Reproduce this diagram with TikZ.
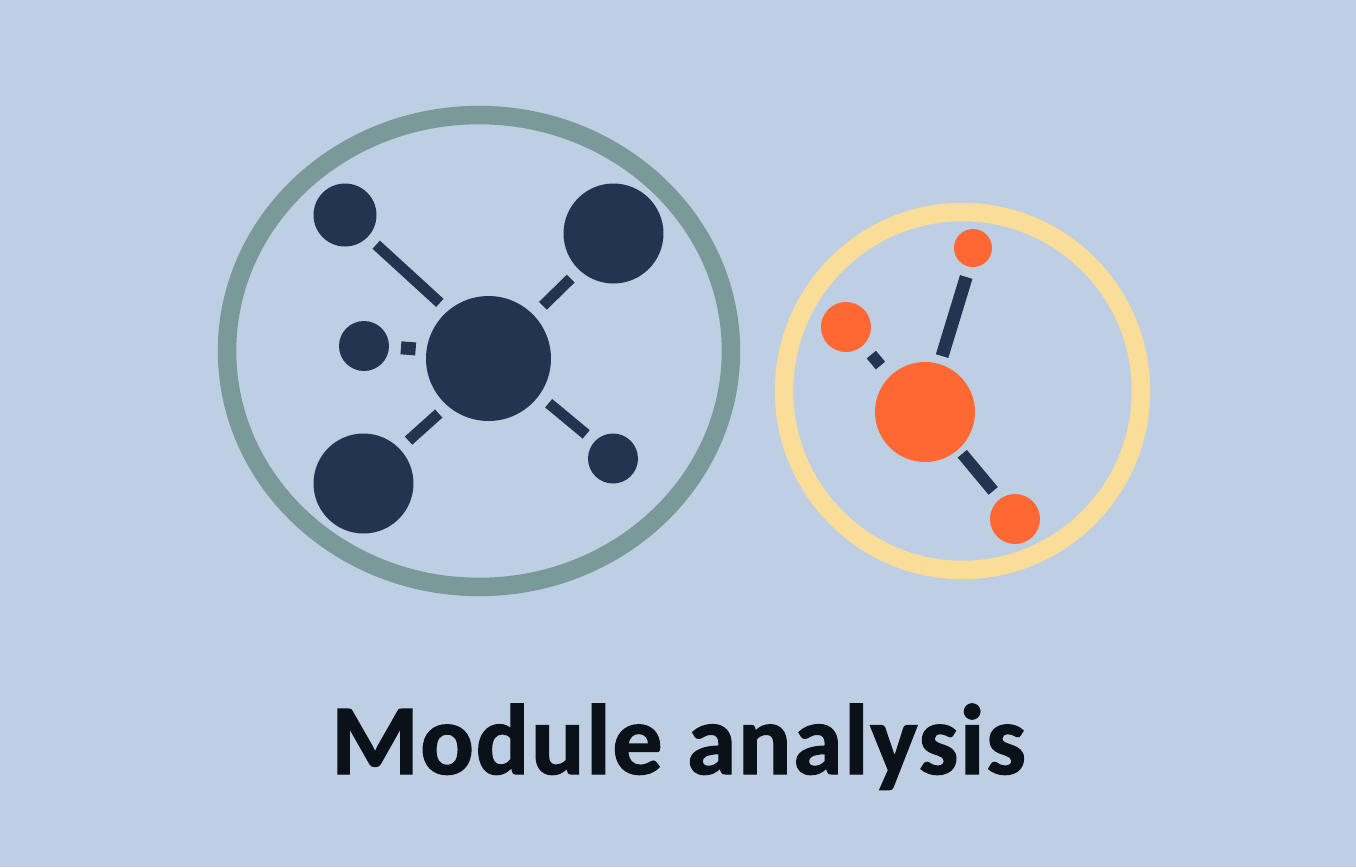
\documentclass[tikz,border=0pt]{standalone}
\usepackage{fontspec}
\setmainfont{Carlito}[LetterSpace=1.5,BoldFeatures={FakeBold=1.2}]
\usetikzlibrary{shapes.geometric}
\definecolor{pagebg}{HTML}{BECEE3}
\definecolor{navy}{HTML}{22344F}
\definecolor{sage}{HTML}{7A9A9A}
\definecolor{sand}{HTML}{FBDD9A}
\definecolor{flame}{HTML}{FF6733}
\definecolor{inkblack}{HTML}{0B1118}
\begin{document}
\begin{tikzpicture}[
    x=0.02cm, y=-0.02cm,
    ring/.style={ellipse, draw, line width=0.37cm, inner sep=0pt, outer sep=0pt},
    blob/.style={circle, fill=navy, inner sep=0pt, outer sep=0pt},
    hot/.style={blob, fill=flame},
    link/.style={draw=navy, line width=0.22cm}
]
    \fill[pagebg] (0,0) rectangle (1356,867);
    \useasboundingbox (0,0) rectangle (1356,867);

    \node[ring, draw=sage, minimum width=10.08cm, minimum height=9.44cm] (leftring) at (479,351) {};
    \node[ring, draw=sand, minimum width=7.14cm, minimum height=7.16cm] (rightring) at (962.5,391) {};

    \node[blob, minimum size=2.5cm] (hub) at (488.5,358.5) {};
    \node[blob, minimum size=1.26cm] (topleft) at (345,215) {};
    \node[blob, minimum size=2cm] (topright) at (613.5,233.5) {};
    \node[blob, minimum size=1cm] (midleft) at (364,346) {};
    \node[blob, minimum size=2cm] (botleft) at (363.5,483.5) {};
    \node[blob, minimum size=1cm] (botright) at (613,458.5) {};

    \node[hot, minimum size=2cm] (hubtwo) at (925,412) {};
    \node[hot, minimum size=0.76cm] (top) at (973,248) {};
    \node[hot, minimum size=1cm] (left) at (846,327) {};
    \node[hot, minimum size=1cm] (low) at (1015,519) {};

    \draw[link, shorten <=0.232cm, shorten >=0.23cm] (topleft.-44.5) -- (hub.130.6);
    \draw[link, shorten <=0.266cm, shorten >=0.244cm] (hub.44.6) -- (topright.-133);
    \draw[link, line width=0.26cm, shorten <=0.24cm, shorten >=0.22cm] (midleft.-2.6) -- (hub.172.5);
    \draw[link, shorten <=0.244cm, shorten >=0.236cm] (botleft.44.1) -- (hub.-131.2);
    \draw[link, shorten <=0.25cm, shorten >=0.222cm] (hub.-36.4) -- (botright.137.3);

    \draw[link, line width=0.26cm, shorten <=0.17cm, shorten >=0.216cm] (hubtwo.73.2) -- (top.-101.8);
    \draw[link, line width=0.24cm, shorten <=0.25cm, shorten >=0.288cm] (left.-46.9) -- (hubtwo.135.8);
    \draw[link, line width=0.24cm, shorten <=0.12cm, shorten >=0.212cm] (hubtwo.-48.5) -- (low.127.4);

    \node[anchor=base, text=inkblack, font=\fontsize{57}{66}\selectfont\bfseries] (title) at (678.5,774) {Module analysis};
\end{tikzpicture}
\end{document}
